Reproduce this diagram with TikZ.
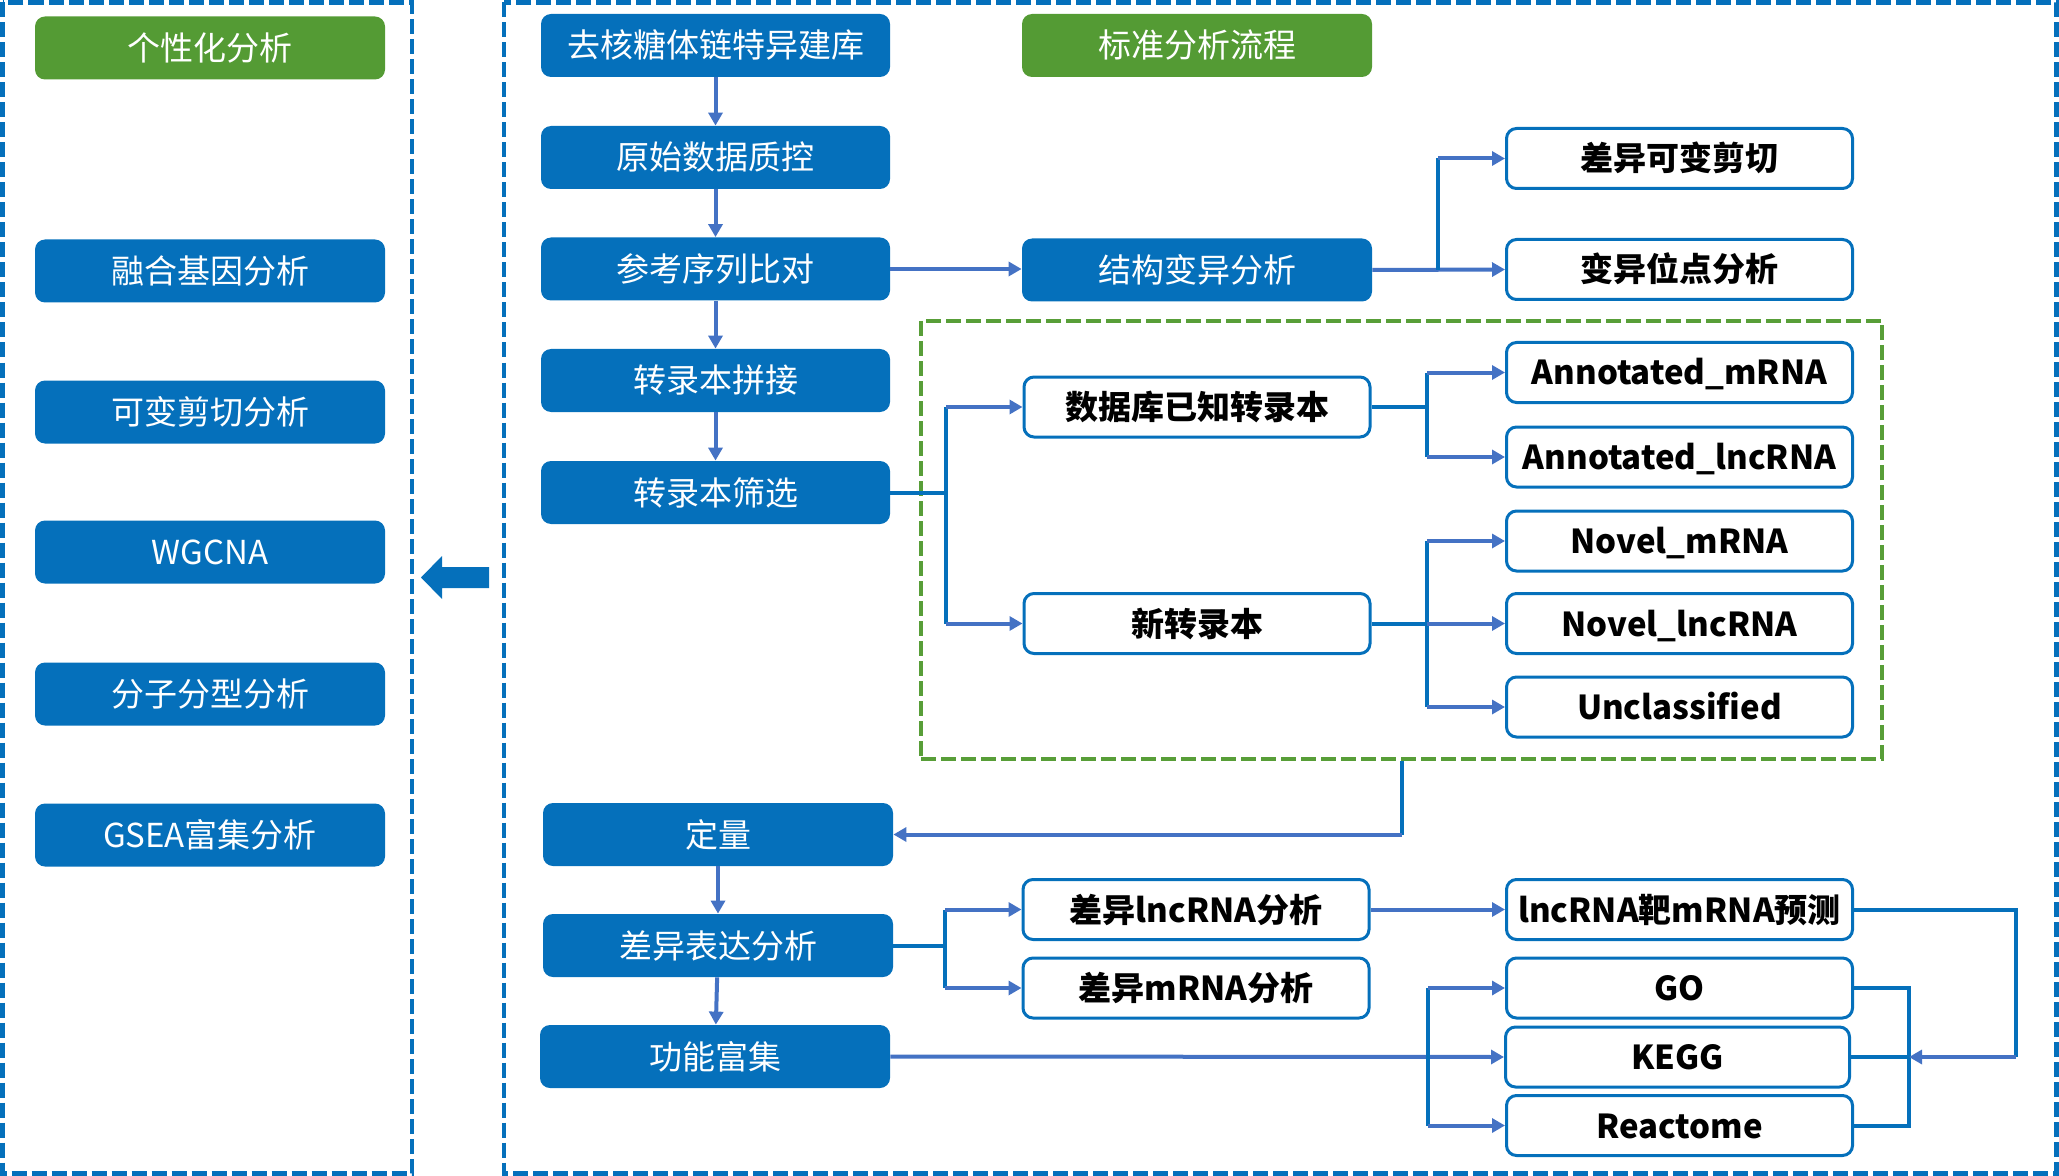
\documentclass[tikz,border=0pt]{standalone}
\usepackage{fontspec}
\setmainfont{Noto Sans CJK SC}
\usetikzlibrary{arrows.meta,calc}
\definecolor{mblue}{RGB}{5,112,187}
\definecolor{lblue}{RGB}{68,114,196}
\definecolor{ggreen}{RGB}{84,155,52}
\definecolor{gdash}{RGB}{88,158,56}
\begin{document}
\begin{tikzpicture}[x=0.5pt,y=-0.5pt,
  fbox/.style={fill=mblue, rounded corners=5pt, minimum width=175pt, minimum height=31.5pt,
    inner sep=0pt, text=white, font=\fontsize{16.5}{18}\selectfont, text height=14.5pt, text depth=2pt},
  gbox/.style={fbox, fill=ggreen},
  wbox/.style={draw=mblue, line width=1.5pt, fill=white, rounded corners=5pt, minimum width=173pt,
    minimum height=30pt, inner sep=0pt, font=\bfseries\fontsize{16.5}{18}\selectfont, text height=14.5pt, text depth=2pt},
  stem/.style={draw=mblue, line width=2pt},
  arr/.style={draw=lblue, line width=2pt, -{Triangle[length=6.5pt,width=7pt]}},
  bdash/.style={draw=mblue, line width=2.4pt, dash pattern=on 7.5pt off 2.5pt},
  gdashed/.style={draw=gdash, line width=2.2pt, dash pattern=on 7.5pt off 2.5pt}
]
\useasboundingbox (0,0) rectangle (2059,1176);

% outer dashed frames
\draw[bdash] (2.5,2.5) rectangle (412,1173.5);
\draw[bdash] (504,2.5) rectangle (2056.5,1173.5);

% left column
\node[gbox] (p0) at (210,48) {个性化分析};
\node[fbox] (p1) at (210,271) {融合基因分析};
\node[fbox] (p2) at (210,412) {可变剪切分析};
\node[fbox] (p3) at (210,552) {WGCNA};
\node[fbox] (p4) at (210,694) {分子分型分析};
\node[fbox] (p5) at (210,835) {GSEA富集分析};

% big left arrow
\fill[mblue] (489,567) -- (442,567) -- (442,556) -- (421,577.5) -- (442,599) -- (442,588) -- (489,588) -- cycle;

% main column
\node[fbox, minimum width=174.5pt] (m1) at (715.5,45.5) {去核糖体链特异建库};
\node[fbox, minimum width=174.5pt] (m2) at (715.5,157.5) {原始数据质控};
\node[fbox, minimum width=174.5pt] (m3) at (715.5,269) {参考序列比对};
\node[fbox, minimum width=174.5pt] (m4) at (715.5,380.5) {转录本拼接};
\node[fbox, minimum width=174.5pt] (m5) at (715.5,492.5) {转录本筛选};
\node[fbox] (m6) at (718,834.5) {定量};
\node[fbox] (m7) at (718,945.5) {差异表达分析};
\node[fbox] (m8) at (715,1056.5) {功能富集};

% column 2
\node[gbox] (std) at (1197,45.5) {标准分析流程};
\node[fbox] (jg) at (1197,270) {结构变异分析};
\node[wbox] (kd) at (1197,407) {数据库已知转录本};
\node[wbox] (xz) at (1197,623.5) {新转录本};
\node[wbox] (dl) at (1196,909.5) {差异lncRNA分析};
\node[wbox] (dm) at (1196,988) {差异mRNA分析};

% column 3
\node[wbox] (cy) at (1679.5,158.5) {差异可变剪切};
\node[wbox] (bw) at (1679.5,269.5) {变异位点分析};
\node[wbox] (am) at (1679.5,372.5) {Annotated\_mRNA};
\node[wbox] (al) at (1679.5,457) {Annotated\_lncRNA};
\node[wbox] (nm) at (1679.5,541) {Novel\_mRNA};
\node[wbox] (nl) at (1679.5,623.5) {Novel\_lncRNA};
\node[wbox] (uc) at (1679.5,707) {Unclassified};
\node[wbox] (lt) at (1679.5,909.5) {lncRNA靶mRNA预测};
\node[wbox] (go) at (1679.5,988) {GO};
\node[wbox, minimum width=172pt] (kegg) at (1677.5,1057) {KEGG};
\node[wbox] (rea) at (1679.5,1125.5) {Reactome};

% green dashed group
\node[gdashed, minimum width=480.5pt, minimum height=219pt, inner sep=0pt] (grp) at (1401.5,540) {};

% vertical flow
\draw[arr] (m1) -- (m2);
\draw[arr] (m2) -- (m3);
\draw[arr] (m3) -- (m4);
\draw[arr] (m4) -- (m5);
\draw[arr] (m6) -- (m7);
\draw[arr] (m7) -- (m8);

% alignment -> structural variation
\draw[arr] (m3.east) -- (jg.west |- m3.east);
\coordinate (b1) at (1438,270);
\draw[arr] (jg.east) -- (bw.west);
\draw[stem] (b1) -- (b1 |- cy.west);
\draw[arr] (b1 |- cy.west) -- (cy.west);

% screening -> transcripts
\coordinate (b2) at (946,492.5);
\draw[stem] (m5.east) -- (b2);
\draw[stem] (b2 |- kd.west) -- (b2 |- xz.west);
\draw[arr] (b2 |- kd.west) -- (kd.west);
\draw[arr] (b2 |- xz.west) -- (xz.west);

% known -> annotated
\coordinate (b3) at (1427,407);
\draw[stem] (kd.east) -- (b3);
\draw[stem] (b3 |- am.west) -- (b3 |- al.west);
\draw[arr] (b3 |- am.west) -- (am.west);
\draw[arr] (b3 |- al.west) -- (al.west);

% novel -> classes
\coordinate (b4) at (1427,623.5);
\draw[stem] (xz.east) -- (b4);
\draw[stem] (b4 |- nm.west) -- (b4 |- uc.west);
\draw[arr] (b4 |- nm.west) -- (nm.west);
\draw[arr] (b4) -- (nl.west);
\draw[arr] (b4 |- uc.west) -- (uc.west);

% group -> quantification
\draw[stem] (grp.south) -- (grp.south |- m6.east);
\draw[arr] (grp.south |- m6.east) -- (m6.east);

% DE -> lncRNA / mRNA
\coordinate (b5) at (945,945.5);
\draw[stem] (m7.east) -- (b5);
\draw[stem] (b5 |- dl.west) -- (b5 |- dm.west);
\draw[arr] (b5 |- dl.west) -- (dl.west);
\draw[arr] (b5 |- dm.west) -- (dm.west);
\draw[arr] (dl.east) -- (lt.west);

% enrichment -> GO / KEGG / Reactome
\coordinate (b6) at (1428,1056.5);
\draw[arr] (m8.east) -- (kegg.west);
\draw[stem] (b6 |- go.west) -- (b6 |- rea.west);
\draw[arr] (b6 |- go.west) -- (go.west);
\draw[arr] (b6 |- rea.west) -- (rea.west);

% right bracket
\coordinate (b7) at (1909,1057);
\draw[stem] (go.east) -- (b7 |- go.east) -- (b7 |- rea.east) -- (rea.east);
\draw[stem] (kegg.east) -- (b7);
\coordinate (b8) at (2016,909.5);
\draw[stem] (lt.east) -- (b8) -- (b8 |- b7);
\draw[arr] (b8 |- b7) -- (b7);
\end{tikzpicture}
\end{document}
